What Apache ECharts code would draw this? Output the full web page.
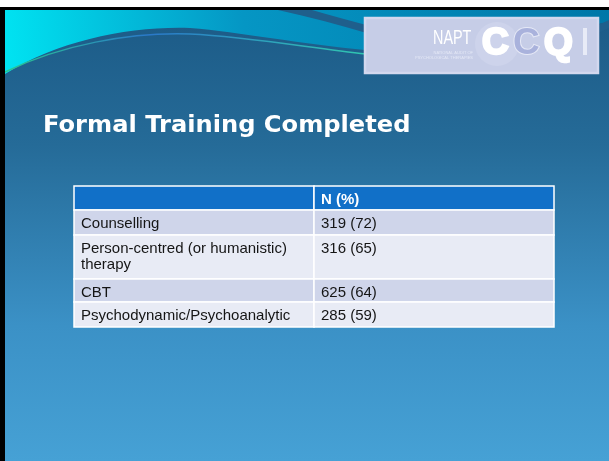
<!DOCTYPE html>
<html>
<head>
<meta charset="utf-8">
<title>Formal Training Completed</title>
<script src="https://cdn.jsdelivr.net/npm/echarts@6/dist/echarts.min.js"></script>
<style>
    html, body { margin: 0; padding: 0; background: #fff; }
    #main { width: 609px; height: 461px; }
</style>
</head>
<body>
<div id="main"></div>
<script>
    // table data
    var header = ['', 'N (%)'];
    var categories = ['Counselling', 'Person-centred (or humanistic) therapy', 'CBT', 'Psychodynamic/Psychoanalytic'];
    var counts = [319, 316, 625, 285];
    var percents = [72, 65, 64, 59];

    // layout (px)
    var rowHeights = [24, 25, 44, 23, 25]; // header + rows
    var tableLeft = 74, tableTop = 186, tableWidth = 480;
    var tableHeight = rowHeights.reduce(function (a, b) { return a + b; }, 0);

    var rows = [];
    var acc = 0;
    rowHeights.forEach(function (h, i) {
        rows.push([acc, acc + h, i]);
        acc += h;
    });

    var font = '15px "Liberation Sans", Arial, sans-serif';

    // slide decoration (swoosh at the top), drawn as paths
    function renderDecor() {
        return {
            type: 'group',
            children: [
                {
                    type: 'path',
                    shape: { pathData: 'M5,10 L609,10 L609,22 C560,30 480,40 365,50 C300,44 240,32 190,28 C130,26 60,40 5,74 Z' },
                    style: {
                        fill: new echarts.graphic.LinearGradient(1, 0, 0, 1, [
                            { offset: 0, color: '#0077a8' },
                            { offset: 0.6, color: '#0596c4' },
                            { offset: 1, color: '#00e4f2' }
                        ])
                    }
                },
                {
                    type: 'path',
                    shape: { pathData: 'M278,10 L312,10 C330,15 350,21 370,26 L370,34 C340,25 310,17 278,10 Z' },
                    style: { fill: '#1f5f8c' }
                },
                {
                    type: 'path',
                    shape: { pathData: 'M596,26 C600,24 605,22 609,20 L609,28 C605,30 600,32 596,34 Z' },
                    style: { fill: '#1f5f8c' }
                },
                {
                    type: 'path',
                    shape: { pathData: 'M5,72 C60,45 130,32 190,34 C250,37 310,48 366,54' },
                    style: {
                        fill: null, lineWidth: 1.5,
                        stroke: new echarts.graphic.LinearGradient(0, 0, 1, 0, [
                            { offset: 0, color: '#28c890' },
                            { offset: 0.4, color: '#2a78c8' },
                            { offset: 1, color: '#30c8b0' }
                        ])
                    }
                }
            ]
        };
    }

    var myChart = echarts.init(document.getElementById('main'));
    myChart.setOption({
        animation: false,
        graphic: [
            // slide background
            {
                type: 'rect', z: 0,
                shape: { x: 5, y: 10, width: 604, height: 451 },
                style: {
                    fill: new echarts.graphic.LinearGradient(0, 0, 0, 1, [
                        { offset: 0, color: '#1c5a86' },
                        { offset: 0.3, color: '#256b98' },
                        { offset: 0.7, color: '#3b91c6' },
                        { offset: 1, color: '#46a1d5' }
                    ])
                }
            },
            // frame
            { type: 'rect', z: 3, shape: { x: 0, y: 0, width: 609, height: 7 }, style: { fill: '#ffffff' } },
            { type: 'rect', z: 3, shape: { x: 0, y: 7, width: 609, height: 3 }, style: { fill: '#000000' } },
            { type: 'rect', z: 3, shape: { x: 0, y: 7, width: 5, height: 454 }, style: { fill: '#000000' } },
            // logo
            {
                type: 'rect', z: 4,
                shape: { x: 365, y: 18, width: 233, height: 55 },
                style: { fill: '#c6cde7', stroke: '#d3d8ee', lineWidth: 2.5 }
            },
            { type: 'circle', z: 4, shape: { cx: 497, cy: 44, r: 22 }, style: { fill: '#cdd3eb' } },
            {
                type: 'text', z: 5, x: 433, y: 28, scaleX: 0.72,
                style: { text: 'NAPT', font: '20px "Liberation Sans", Arial', fill: '#ffffff', verticalAlign: 'top' }
            },
            {
                type: 'text', z: 5, x: 473, y: 50,
                style: {
                    text: 'NATIONAL AUDIT OF\nPSYCHOLOGICAL THERAPIES', font: '4px "Liberation Sans", Arial',
                    fill: '#e4e8f6', align: 'right', verticalAlign: 'top', lineHeight: 5
                }
            },
            {
                type: 'text', z: 5, x: 482, y: 44,
                style: {
                    text: 'C', font: 'bold 37px "Liberation Sans", Arial', fill: '#ffffff',
                    stroke: '#ffffff', lineWidth: 2.5, verticalAlign: 'middle'
                }
            },
            {
                type: 'text', z: 5, x: 513, y: 44,
                style: {
                    text: 'C', font: 'bold 37px "Liberation Sans", Arial', fill: '#a9b2dc',
                    stroke: '#e6e9f6', lineWidth: 2, verticalAlign: 'middle'
                }
            },
            {
                type: 'text', z: 5, x: 544, y: 44,
                style: {
                    text: 'Q', font: 'bold 37px "Liberation Sans", Arial', fill: '#ffffff',
                    stroke: '#ffffff', lineWidth: 2.5, verticalAlign: 'middle'
                }
            },
            { type: 'rect', z: 5, shape: { x: 583, y: 28, width: 4, height: 27 }, style: { fill: '#e8ebf7' } },
            // title
            {
                type: 'text', z: 5, x: 43, y: 126, scaleX: 1.05,
                style: {
                    text: 'Formal Training Completed',
                    font: 'bold 23px "DejaVu Sans", Verdana, sans-serif',
                    fill: '#ffffff', verticalAlign: 'middle'
                }
            }
        ],
        grid: { left: tableLeft, top: tableTop, width: tableWidth, height: tableHeight },
        xAxis: { type: 'value', min: 0, max: 1, show: false },
        yAxis: { type: 'value', min: 0, max: tableHeight, inverse: true, show: false },
        series: [
            {
                type: 'custom',
                z: 1,
                silent: true,
                clip: false,
                coordinateSystem: 'none',
                data: [[0]],
                renderItem: renderDecor
            },
            {
                type: 'custom',
                z: 10,
                clip: false,
                data: rows,
                renderItem: function (params, api) {
                    var y0 = api.value(0), y1 = api.value(1), i = api.value(2);
                    var tl = api.coord([0, y0]);
                    var mid = api.coord([0.5, y1]);
                    var br = api.coord([1, y1]);
                    var h = br[1] - tl[1];
                    var fill = i === 0 ? '#1170c8' : (i % 2 === 1 ? '#cfd5ea' : '#e8ebf5');
                    var left, right, color, weight;
                    if (i === 0) {
                        left = header[0];
                        right = header[1];
                        color = '#ffffff';
                        weight = 'bold ';
                    } else {
                        left = categories[i - 1];
                        right = counts[i - 1] + ' (' + percents[i - 1] + ')';
                        color = '#151515';
                        weight = '';
                    }
                    return {
                        type: 'group',
                        children: [
                            {
                                type: 'rect',
                                shape: { x: tl[0], y: tl[1], width: mid[0] - tl[0], height: h },
                                style: { fill: fill, stroke: '#ffffff', lineWidth: 1.5 }
                            },
                            {
                                type: 'rect',
                                shape: { x: mid[0], y: tl[1], width: br[0] - mid[0], height: h },
                                style: { fill: fill, stroke: '#ffffff', lineWidth: 1.5 }
                            },
                            {
                                type: 'text',
                                style: {
                                    text: left, x: tl[0] + 7, y: tl[1] + 6,
                                    font: weight + font, fill: color,
                                    width: mid[0] - tl[0] - 14, overflow: 'break',
                                    lineHeight: 16, verticalAlign: 'top'
                                }
                            },
                            {
                                type: 'text',
                                style: {
                                    text: right, x: mid[0] + 7, y: tl[1] + 6,
                                    font: weight + font, fill: color,
                                    lineHeight: 16, verticalAlign: 'top'
                                }
                            }
                        ]
                    };
                }
            }
        ]
    });
</script>
</body>
</html>
